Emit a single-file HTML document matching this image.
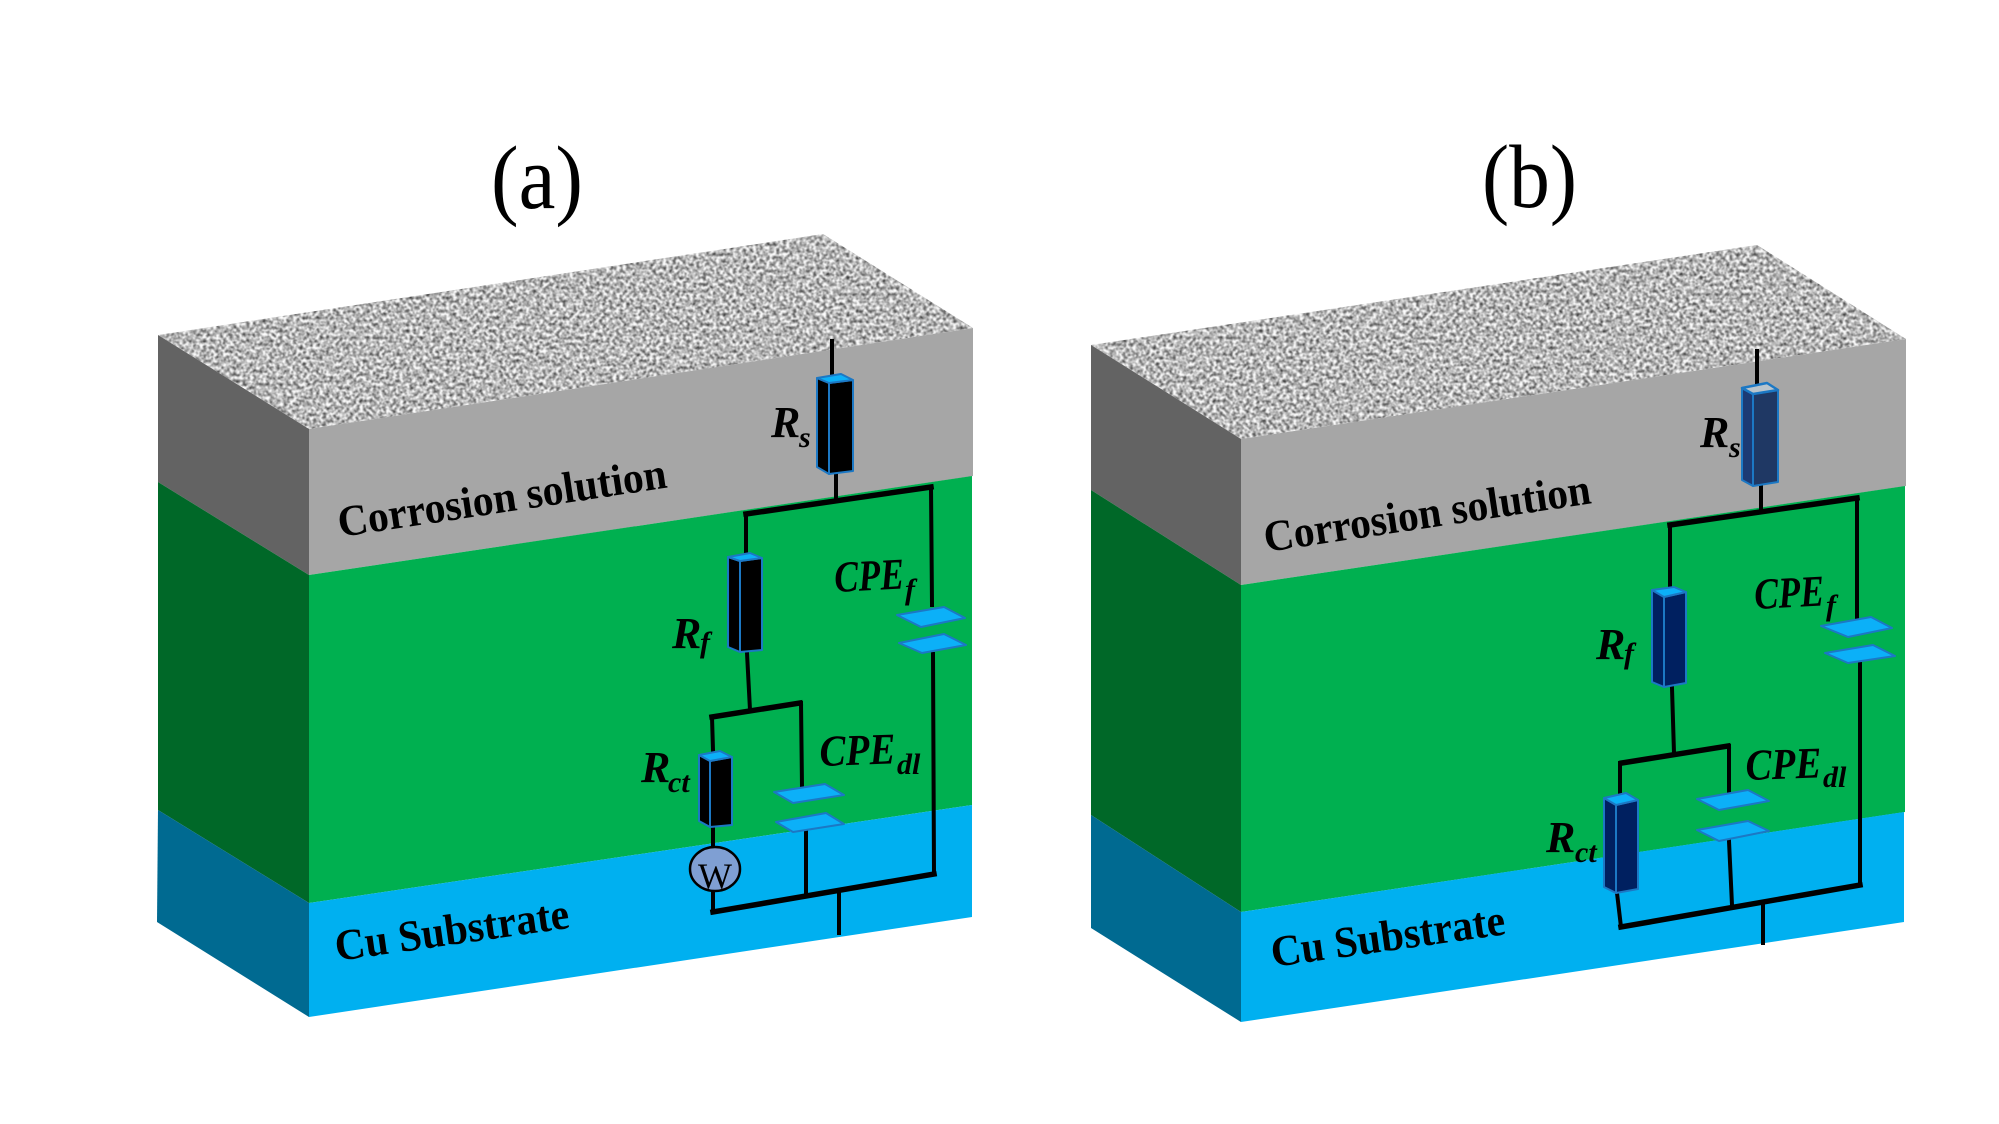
<!DOCTYPE html>
<html><head><meta charset="utf-8"><style>
html,body{margin:0;padding:0;background:#fff;width:1999px;height:1124px;overflow:hidden}
svg{display:block}
text{font-family:"Liberation Serif",serif;fill:#000}
.t{font-size:90px}
.b{font-weight:bold;font-size:44px}
.m{font-weight:bold;font-style:italic;font-size:44px}
.s{font-weight:bold;font-style:italic;font-size:30px}
.w{fill:none;stroke:#000;stroke-width:4;stroke-linecap:square}
.h{fill:none;stroke:#000;stroke-width:5.5;stroke-linecap:square}
.p{fill:#0cb0f8;stroke:#1c78c4;stroke-width:2;stroke-linejoin:round}
.e{stroke:#1c78c4;stroke-width:2;stroke-linejoin:round}
.k{fill:#000}.n1{fill:#1f3864}.n2{fill:#002060}
</style></head><body>
<svg width="1999" height="1124" viewBox="0 0 1999 1124" xmlns="http://www.w3.org/2000/svg">
<defs>
<filter id="n" x="0" y="0" width="100%" height="100%" color-interpolation-filters="sRGB">
<feTurbulence type="fractalNoise" baseFrequency="0.3" numOctaves="2" seed="7"/>
<feColorMatrix type="matrix" values="1.5 0 0 0 -0.03  1.5 0 0 0 -0.03  1.5 0 0 0 -0.03  0 0 0 0 1"/>
<feGaussianBlur stdDeviation="0.5"/>
</filter>
<clipPath id="ca"><polygon points="158,335 823,234 973,328 309,429"/></clipPath>
<clipPath id="cb"><polygon points="1091,345 1757,245 1906,339 1241,439"/></clipPath>
</defs>
<rect width="1999" height="1124" fill="#fff"/>

<!-- Panel a -->
<text class="t" x="491" y="208" textLength="92" lengthAdjust="spacingAndGlyphs">(a)</text>
<g clip-path="url(#ca)"><rect x="150" y="225" width="835" height="210" filter="url(#n)"/></g>
<polygon points="158,335 309,429 309,575 158,482" fill="#636363"/>
<polygon points="309,429 973,328 973,476 309,575" fill="#a6a6a6"/>
<polygon points="158,482 309,575 309,903 158,810" fill="#006828"/>
<polygon points="309,575 972,476 972,805 309,903" fill="#00b050"/>
<polygon points="158,810 309,903 309,1017 157,922" fill="#006a91"/>
<polygon points="309,903 972,805 972,917 309,1017" fill="#00b0f0"/>

<text class="b" transform="translate(340,537) rotate(-8.6)" textLength="332" lengthAdjust="spacingAndGlyphs">Corrosion solution</text>
<text class="b" transform="translate(337,961) rotate(-8.1)" textLength="236" lengthAdjust="spacingAndGlyphs">Cu Substrate</text>

<g>
<path class="w" d="M832,341V374M836,474V500"/>
<path class="h" d="M746,514L931,487"/>
<path class="w" d="M746,514V553M931,487L932,605M747,653L750,710M933,654L934,874"/>
<path class="h" d="M712,717L800,703"/>
<path class="w" d="M712,717L713,750M801,703L802,787M713,828V847M713,890V912M806,832V893M839,893V933"/>
<path class="h" d="M713,912L934,874"/>
<polygon class="k e" points="817,378 829,383 829,474 817,467"/>
<polygon class="k e" points="829,383 853,380 853,471 829,474"/>
<polygon class="p" points="817,378 829,383 853,380 841,374"/>
<polygon class="k e" points="728,557 740,561 740,652 728,647"/>
<polygon class="k e" points="740,561 762,558 762,650 740,652"/>
<polygon class="p" points="728,557 740,561 762,558 750,553"/>
<polygon class="k e" points="699,755 710,761 710,827 699,821"/>
<polygon class="k e" points="710,761 732,757 732,825 710,827"/>
<polygon class="p" points="699,755 710,761 732,757 720,751"/>
<polygon class="p" points="897,615 921,627 965,618 944,607"/>
<polygon class="p" points="899,643 922,653 966,645 944,634"/>
<polygon class="p" points="774,792 793,803 844,795 825,784"/>
<polygon class="p" points="776,822 793,832 844,824 826,813"/>
<ellipse cx="715" cy="869" rx="25" ry="22" fill="#7f9fd3" stroke="#000" stroke-width="2.5"/>
<text x="715" y="888" font-size="36" text-anchor="middle">W</text>
</g>
<text class="m" x="771" y="437">R</text><text class="s" x="799" y="447">s</text>
<text class="m" x="672" y="648">R</text><text class="s" x="700" y="652">f</text>
<text class="m" x="641" y="782">R</text><text class="s" x="668" y="792">ct</text>
<text class="m" x="835" y="592" transform="rotate(-3 835 592)" textLength="70" lengthAdjust="spacingAndGlyphs">CPE</text><text class="s" x="905" y="599">f</text>
<text class="m" x="820" y="766" transform="rotate(-2 820 766)" textLength="76" lengthAdjust="spacingAndGlyphs">CPE</text><text class="s" x="897" y="774">dl</text>

<!-- Panel b -->
<text class="t" x="1482" y="207" textLength="95" lengthAdjust="spacingAndGlyphs">(b)</text>
<g clip-path="url(#cb)"><rect x="1085" y="236" width="835" height="210" filter="url(#n)"/></g>
<polygon points="1091,345 1241,439 1241,585 1091,490" fill="#636363"/>
<polygon points="1241,439 1906,339 1906,486 1241,585" fill="#a6a6a6"/>
<polygon points="1091,490 1241,585 1241,912 1091,815" fill="#006828"/>
<polygon points="1241,585 1905,486 1905,812 1241,912" fill="#00b050"/>
<polygon points="1091,815 1241,912 1241,1022 1091,928" fill="#006a91"/>
<polygon points="1241,912 1904,812 1904,922 1241,1022" fill="#00b0f0"/>

<text class="b" transform="translate(1266,552) rotate(-8.5)" textLength="330" lengthAdjust="spacingAndGlyphs">Corrosion solution</text>
<text class="b" transform="translate(1273,967) rotate(-8)" textLength="236" lengthAdjust="spacingAndGlyphs">Cu Substrate</text>

<g>
<path class="w" d="M1757,351V384M1761,486V508"/>
<path class="h" d="M1670,525L1857,498"/>
<path class="w" d="M1670,525V587M1857,498V617M1672,688L1674,753M1860,664V885"/>
<path class="h" d="M1622,763L1728,746"/>
<path class="w" d="M1620,763V793M1729,746V792M1617,893L1621,927M1729,841L1732,905M1763,904V943"/>
<path class="h" d="M1621,927L1860,885"/>
<polygon class="n2 e" points="1742,388 1753,394 1753,486 1742,480" style="fill:#1c3a74"/>
<polygon class="n1 e" points="1753,394 1778,390 1778,482 1753,486"/>
<polygon points="1742,388 1753,394 1778,390 1767,383" fill="#b9c4cc" stroke="#1c78c4" stroke-width="2.5" stroke-linejoin="round"/>
<polygon class="n2 e" points="1652,590 1664,597 1664,687 1652,682"/>
<polygon class="n2 e" points="1664,597 1686,592 1686,683 1664,687"/>
<polygon class="p" points="1652,590 1664,597 1686,592 1674,587"/>
<polygon class="n2 e" points="1604,798 1616,805 1616,893 1604,887"/>
<polygon class="n2 e" points="1616,805 1638,800 1638,889 1616,893"/>
<polygon class="p" points="1604,798 1616,805 1638,800 1626,793"/>
<polygon class="p" points="1821,626 1848,637 1892,628 1871,617"/>
<polygon class="p" points="1825,653 1848,663 1895,656 1873,645"/>
<polygon class="p" points="1697,799 1719,810 1769,801 1748,790"/>
<polygon class="p" points="1697,830 1719,841 1769,831 1748,821"/>
</g>
<text class="m" x="1700" y="447">R</text><text class="s" x="1729" y="457">s</text>
<text class="m" x="1596" y="659">R</text><text class="s" x="1624" y="663">f</text>
<text class="m" x="1546" y="852">R</text><text class="s" x="1575" y="862">ct</text>
<text class="m" x="1755" y="609" transform="rotate(-3 1755 609)" textLength="70" lengthAdjust="spacingAndGlyphs">CPE</text><text class="s" x="1826" y="615">f</text>
<text class="m" x="1746" y="780" transform="rotate(-2 1746 780)" textLength="76" lengthAdjust="spacingAndGlyphs">CPE</text><text class="s" x="1823" y="787">dl</text>
</svg>
</body></html>
